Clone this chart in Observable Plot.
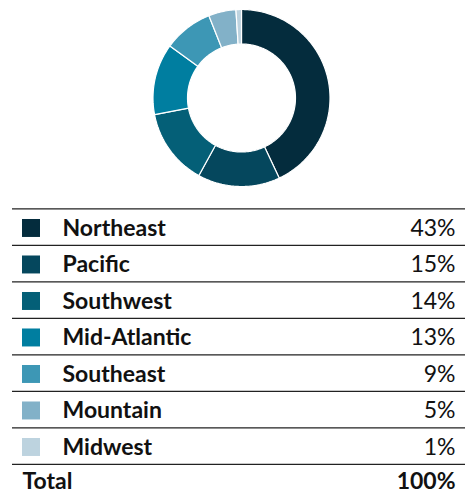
<!DOCTYPE html>
<html>
<head>
<meta charset="utf-8">
<script src="https://cdn.jsdelivr.net/npm/d3@7"></script>
<script src="https://cdn.jsdelivr.net/npm/@observablehq/plot@0.6"></script>
<style>
  html, body { margin: 0; padding: 0; background: #fff; }
  #chart { width: 472px; font-family: Lato, "Noto Sans", sans-serif; }
  #chart svg { display: block; }
</style>
</head>
<body>
<div id="chart"></div>
<script>
const regions = ["Northeast", "Pacific", "Southwest", "Mid-Atlantic", "Southeast", "Mountain", "Midwest"];
const shares = [43, 15, 14, 13, 9, 5, 1];
const colors = ["#042c3d", "#05475d", "#045f77", "#007ea0", "#3d97b5", "#82b1c8", "#bdd3df"];
const totalLabel = "Total";

const rows = regions.map((region, i) => ({region, share: shares[i], i}));
const total = d3.sum(shares);

// donut geometry derived from the data via d3.pie
const innerR = 0.61;
const pie = d3.pie().sort(null).value(d => d.share)(rows);
const ring = [];
for (const s of pie) {
  const n = Math.max(2, Math.ceil((s.endAngle - s.startAngle) / (Math.PI / 180)));
  const pts = [];
  for (let k = 0; k <= n; k++) {
    const a = s.startAngle + (s.endAngle - s.startAngle) * k / n;
    pts.push([Math.sin(a), Math.cos(a)]);
  }
  for (let k = n; k >= 0; k--) {
    const a = s.startAngle + (s.endAngle - s.startAngle) * k / n;
    pts.push([innerR * Math.sin(a), innerR * Math.cos(a)]);
  }
  pts.push(pts[0]);
  for (const [x, y] of pts) ring.push({region: s.data.region, x, y});
}

const cx = 241, cy = 97.5, R = 88.5;
const donut = Plot.plot({
  width: 472,
  height: 195,
  margin: 0,
  x: {domain: [-1, 1], range: [cx - R, cx + R], axis: null},
  y: {domain: [-1, 1], range: [cy + R, cy - R], axis: null},
  color: {domain: regions, range: colors},
  marks: [
    Plot.line(ring, {x: "x", y: "y", z: "region", fill: "region", stroke: "white", strokeWidth: 1.2, strokeLinejoin: "miter"})
  ]
});

const top0 = 208.3 - 195, rowH = 36.5;
const fs = 23;
const table = Plot.plot({
  width: 472,
  height: 296,
  margin: 0,
  style: {fontFamily: "Lato, 'Noto Sans', sans-serif", background: "white", color: "#111", overflow: "visible"},
  x: {domain: [0, 472], range: [0, 472], axis: null},
  y: {domain: [0, 8], range: [top0, top0 + rowH * 8], axis: null},
  color: {domain: regions, range: colors},
  marks: [
    Plot.ruleY(d3.range(0, rows.length + 1), {x1: 12, x2: 465, stroke: "#222", strokeWidth: 1.3}),
    Plot.rect(rows, {x1: 22, x2: 40, y1: d => d.i + 0.293, y2: d => d.i + 0.785, fill: "region"}),
    Plot.text(rows, {x: 62, y: d => d.i + 0.5, text: "region", textAnchor: "start", fontSize: fs, fontWeight: "bold", fill: "#111", dy: 1.5}),
    Plot.text(rows, {x: 455, y: d => d.i + 0.5, text: d => `${d.share}%`, textAnchor: "end", fontSize: fs, fill: "#111", dy: 1.5}),
    Plot.text([totalLabel], {x: 22, y: rows.length + 0.5, text: d => d, textAnchor: "start", fontSize: fs, fontWeight: "bold", fill: "#111", dy: -0.5}),
    Plot.text([total], {x: 455, y: rows.length + 0.5, text: d => `${d}%`, textAnchor: "end", fontSize: fs, fontWeight: "bold", fill: "#111", dy: -0.5})
  ]
});

const chart = document.getElementById("chart");
chart.append(donut, table);
</script>
</body>
</html>
